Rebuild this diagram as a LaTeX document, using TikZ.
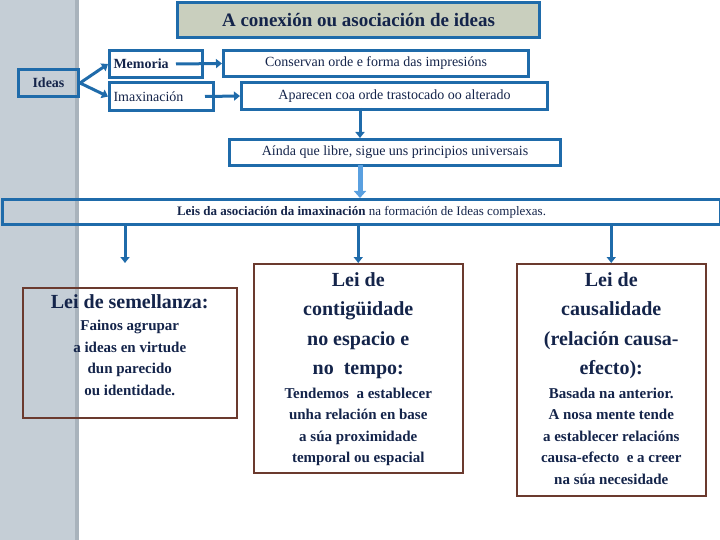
\documentclass[tikz,border=0pt]{standalone}
\usepackage{fontspec}
\setmainfont{Liberation Serif}
\usetikzlibrary{arrows.meta}
\definecolor{bl}{HTML}{1F6BAA}
\definecolor{lbl}{HTML}{5AA0E0}
\definecolor{navy}{HTML}{14244A}
\definecolor{band}{HTML}{C5CED6}
\definecolor{bandd}{HTML}{A9B3BC}
\definecolor{brn}{HTML}{6B3A2E}
\definecolor{tfill}{HTML}{C9CFBE}
\newcommand{\hd}{\fontsize{20}{29}\selectfont}
\begin{document}
\begin{tikzpicture}[x=1pt,y=-1pt,
  bbox/.style={draw=bl,line width=3pt,inner sep=0pt,anchor=north west},
  lbox/.style={draw=brn,line width=1.5pt,anchor=north west},
  ltxt/.style={anchor=north,align=center,text=navy,inner sep=0pt,font=\fontsize{15}{21.5}\selectfont\bfseries},
  arr/.style={draw=bl,line width=3pt,-{Triangle[length=6pt,width=9pt]}}]
\useasboundingbox (0,0) rectangle (720,540);
\fill[band] (0,0) rectangle (77,540);
\fill[bandd] (75,0) rectangle (79,540);
\node[bbox,fill=tfill,minimum width=362pt,minimum height=35pt] (title) at (176,1) {\fontsize{19}{22}\selectfont\bfseries\color{navy}A conexión ou asociación de ideas};
\node[bbox,minimum width=60pt,minimum height=27pt] (ideas) at (17,68) {\fontsize{14}{16}\selectfont\bfseries\color{navy}Ideas};
\node[bbox,minimum width=93pt,minimum height=27pt,text width=85pt,align=left] (mem) at (108,49) {\fontsize{14}{16}\selectfont\bfseries\color{navy}Memoria};
\node[bbox,minimum width=104pt,minimum height=28pt,text width=96pt,align=left] (ima) at (108,81) {\fontsize{14}{16}\selectfont\color{navy}Imaxinación};
\node[bbox,minimum width=305pt,minimum height=26pt] (con) at (222,49) {\fontsize{14}{16}\selectfont\color{navy}Conservan orde e forma das impresións};
\node[bbox,minimum width=306pt,minimum height=27pt] (apa) at (240,81) {\fontsize{14}{16}\selectfont\color{navy}Aparecen coa orde trastocado oo alterado};
\node[bbox,minimum width=331pt,minimum height=26pt] (ain) at (228,138) {\fontsize{14}{16}\selectfont\color{navy}Aínda que libre, sigue uns principios universais};
\node[bbox,minimum width=718pt,minimum height=25pt] (leis) at (1,198) {\fontsize{13}{16}\selectfont\color{navy}\textbf{Leis da asociación da imaxinación} na formación de Ideas complexas.};
\node[lbox,minimum width=214pt,minimum height=130pt] (l1) at (22,287) {};
\node[lbox,minimum width=209pt,minimum height=209pt] (l2) at (253,263) {};
\node[lbox,minimum width=189pt,minimum height=232pt] (l3) at (516,263) {};
\node[ltxt] (t1) at ([yshift=-7pt]l1.north) {\hd Lei de semellanza:\\[1pt] Fainos agrupar\\ a ideas en virtude\\ dun parecido\\ ou identidade.};
\node[ltxt] (t2) at ([yshift=-9pt]l2.north) {\hd Lei de\\[8pt] \hd contigüidade\\[8pt] \hd no espacio e\\[8pt] \hd no\ \ tempo:\\[2pt] Tendemos\ \ a establecer\\ unha relación en base\\ a súa proximidade\\ temporal ou espacial};
\node[ltxt] (t3) at ([yshift=-9pt]l3.north) {\hd Lei de\\[8pt] \hd causalidade\\[8pt] \hd (relación causa-\\[8pt] \hd efecto):\\[2pt] Basada na anterior.\\ A nosa mente tende\\ a establecer relacións\\ causa-efecto\ \ e a creer\\ na súa necesidade};
\coordinate (a1) at (360,108);
\coordinate (a2) at (360,165);
\draw[arr] (ideas.east) -- (mem.west);
\draw[arr] (ideas.east) -- (ima.west);
\draw[arr] ([xshift=-28pt]mem.east) -- (con.west);
\draw[arr] ([xshift=-10pt]ima.east) -- (apa.west);
\draw[arr] (a1) -- (ain.north -| a1);
\draw[draw=lbl,line width=5pt,-{Triangle[length=7pt,width=12pt]}] (a2) -- (leis.north -| a2);
\draw[arr] (leis.south -| 125,0) -- (125,263);
\draw[arr] (leis.south -| l2.north) -- (l2.north);
\draw[arr] (leis.south -| l3.north) -- (l3.north);
\end{tikzpicture}
\end{document}
